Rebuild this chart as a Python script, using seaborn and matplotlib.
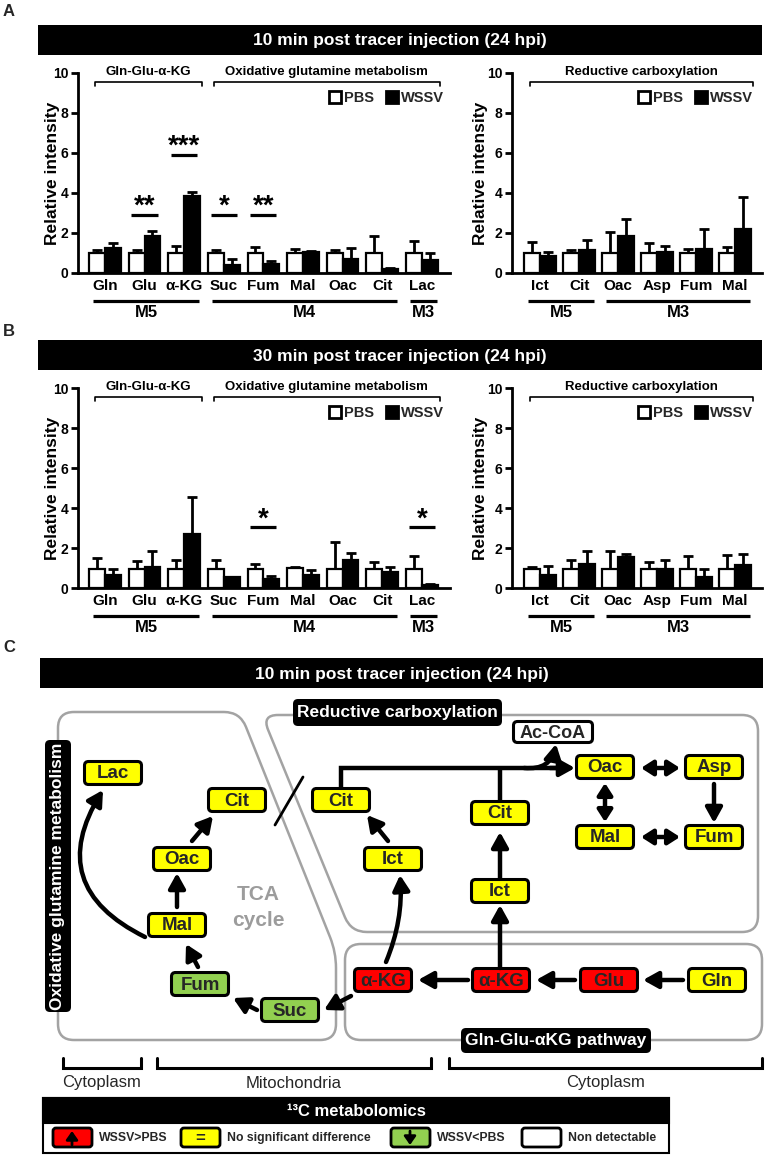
import numpy as np
import pandas as pd
import matplotlib
matplotlib.use("Agg")
import matplotlib.pyplot as plt
import matplotlib.patches as mpatches
from matplotlib.path import Path
import seaborn as sns

# ---- data ----
cats_left = ["Gln", "Glu", "α-KG", "Suc", "Fum", "Mal", "Oac", "Cit", "Lac"]
cats_right = ["Ict", "Cit", "Oac", "Asp", "Fum", "Mal"]

# panel A (10 min): means and top of error bars
a_pbs_l = [1.0, 1.0, 1.0, 1.0, 1.0, 1.0, 1.0, 1.0, 1.0]
a_pbs_l_top = [1.17, 1.17, 1.33, 1.17, 1.28, 1.2, 1.17, 1.83, 1.6]
a_wssv_l = [1.25, 1.83, 3.83, 0.38, 0.45, 1.05, 0.7, 0.2, 0.65]
a_wssv_l_top = [1.5, 2.1, 4.05, 0.7, 0.6, 1.1, 1.25, 0.27, 1.0]
a_pbs_r = [1.0, 1.0, 1.0, 1.0, 1.0, 1.0]
a_pbs_r_top = [1.55, 1.17, 2.05, 1.48, 1.2, 1.3]
a_wssv_r = [0.83, 1.17, 1.83, 1.05, 1.2, 2.2]
a_wssv_r_top = [1.05, 1.67, 2.72, 1.33, 2.22, 3.78]
a_sig_cats = ["Glu", "α-KG", "Suc", "Fum"]
a_sig_marks = ["**", "***", "*", "**"]
a_sig_y = [2.92, 5.92, 2.92, 2.92]

# panel B (30 min)
b_pbs_l = [0.93, 0.95, 0.95, 0.95, 0.95, 1.02, 0.95, 0.95, 0.95]
b_pbs_l_top = [1.5, 1.37, 1.42, 1.42, 1.2, 1.04, 2.3, 1.28, 1.62]
b_wssv_l = [0.67, 1.05, 2.72, 0.53, 0.45, 0.67, 1.38, 0.78, 0.17]
b_wssv_l_top = [0.95, 1.83, 4.57, 0.55, 0.62, 0.92, 1.75, 1.03, 0.18]
b_pbs_r = [0.95, 0.95, 0.95, 0.95, 0.95, 0.95]
b_pbs_r_top = [1.05, 1.42, 1.83, 1.3, 1.62, 1.67]
b_wssv_r = [0.63, 1.22, 1.53, 0.95, 0.55, 1.13]
b_wssv_r_top = [1.12, 1.83, 1.7, 1.42, 0.95, 1.7]
b_sig_cats = ["Fum", "Lac"]
b_sig_marks = ["*", "*"]
b_sig_y = [3.03, 3.03]

groups_left = [("M5", 0, 2), ("M4", 3, 7), ("M3", 8, 8)]
groups_right = [("M5", 0, 1), ("M3", 2, 5)]
brackets_left = [("Gln-Glu-α-KG", 0, 2), ("Oxidative glutamine metabolism", 3, 8)]
brackets_right = [("Reductive carboxylation", 0, 5)]

W, H = 765, 1156
sns.set_theme(style="ticks")
plt.rcParams["font.family"] = ["Liberation Sans", "DejaVu Sans"]

fig = plt.figure(figsize=(W / 100, H / 100), dpi=100)
fig.patch.set_facecolor("white")

ov = fig.add_axes([0, 0, 1, 1])
ov.set_xlim(0, W)
ov.set_ylim(H, 0)
ov.axis("off")


def px_axes(x0, y0, x1, y1):
    return fig.add_axes([x0 / W, 1 - y1 / H, (x1 - x0) / W, (y1 - y0) / H])


def bar_panel(ax, cats, pbs, pbs_top, wssv, wssv_top, sig_cats, sig_marks, sig_y,
              groups, brackets, xlim, leg_x, ylab_x):
    n = len(cats)
    df = pd.DataFrame({"metabolite": cats * 2,
                       "group": ["PBS"] * n + ["WSSV"] * n,
                       "value": pbs + wssv})
    sns.barplot(data=df, x="metabolite", y="value", hue="group", order=cats,
                hue_order=["PBS", "WSSV"], palette={"PBS": "white", "WSSV": "black"},
                edgecolor="black", linewidth=1.6, errorbar=None, width=0.8,
                ax=ax, legend=False, zorder=2)
    for cont, top in zip(ax.containers, [pbs_top, wssv_top]):
        xs = np.array([b.get_x() + b.get_width() / 2 for b in cont])
        hs = np.array([b.get_height() for b in cont])
        ax.errorbar(xs, hs, yerr=[np.zeros(n), np.array(top) - hs], fmt="none",
                    ecolor="black", elinewidth=2, capsize=3.5, capthick=2, zorder=1)
    ax.set_facecolor("none")
    ax.set_xlim(*xlim)
    ax.set_ylim(0, 10)
    ax.set_yticks([0, 2, 4, 6, 8, 10])
    for s in ["top", "right"]:
        ax.spines[s].set_visible(False)
    for s in ["left", "bottom"]:
        ax.spines[s].set_linewidth(2)
        ax.spines[s].set_color("black")
    ax.tick_params(axis="y", length=5, width=2, labelsize=10, pad=2, colors="black")
    ax.tick_params(axis="x", length=0, labelsize=11, pad=4, colors="black")
    for lbl in ax.get_xticklabels() + ax.get_yticklabels():
        lbl.set_fontweight("bold")
    ax.set_xlabel("")
    ax.set_ylabel("Relative intensity", fontsize=12.5, fontweight="bold", color="black")
    ax.yaxis.set_label_coords(ylab_x, 0.5)
    handles = [mpatches.Patch(facecolor="white", edgecolor="black", linewidth=2, label="PBS"),
               mpatches.Patch(facecolor="black", edgecolor="black", linewidth=2, label="WSSV")]
    ax.legend(handles=handles, loc="upper right", bbox_to_anchor=(leg_x, 0.91), ncol=2,
              frameon=False, handlelength=0.8, handleheight=0.8, handletextpad=0.25,
              columnspacing=0.8, borderaxespad=0, borderpad=0,
              prop={"weight": "bold", "size": 10.5})
    for c, m, y in zip(sig_cats, sig_marks, sig_y):
        i = cats.index(c)
        ax.plot([i - 0.33, i + 0.33], [y, y], color="black", lw=2.3,
                solid_capstyle="butt", clip_on=False)
        ax.text(i, y + 0.05, m, ha="center", va="baseline", fontsize=20,
                fontweight="bold", color="black")
    for name, s, e in groups:
        ax.plot([s - 0.3, e + 0.38], [-1.4, -1.4], color="black", lw=2.3,
                solid_capstyle="butt", clip_on=False)
        ax.text((s + e) / 2 + 0.04, -1.98, name, ha="center", va="center",
                fontsize=12, fontweight="bold", color="black", clip_on=False)
    for name, s, e in brackets:
        x0, x1 = s - 0.25, e + 0.45
        ax.plot([x0, x0, x1, x1], [9.35, 9.55, 9.55, 9.35], color="black", lw=1.2,
                clip_on=False)
        ax.text((x0 + x1) / 2, 10.05, name, ha="center", va="center", fontsize=9.5,
                fontweight="bold", color="black", clip_on=False)


def title_bar(y0, y1, text, x0=38, x1=762):
    ov.add_patch(mpatches.Rectangle((x0, y0), x1 - x0, y1 - y0, facecolor="black",
                                    edgecolor="none"))
    ov.text((x0 + x1) / 2, (y0 + y1) / 2 + 1, text, color="white", ha="center",
            va="center", fontsize=12.5, fontweight="bold")


# ---- panels A and B ----
ov.text(9, 12, "A", fontsize=12, fontweight="bold", ha="center", va="center")
title_bar(25, 55, "10 min post tracer injection (24 hpi)")
ax1 = px_axes(78, 73, 450, 273)
bar_panel(ax1, cats_left, a_pbs_l, a_pbs_l_top, a_wssv_l, a_wssv_l_top,
          a_sig_cats, a_sig_marks, a_sig_y, groups_left, brackets_left,
          (-0.68, 8.71), 0.985, -0.048)
ax2 = px_axes(512, 73, 762, 273)
bar_panel(ax2, cats_right, a_pbs_r, a_pbs_r_top, a_wssv_r, a_wssv_r_top,
          [], [], [], groups_right, brackets_right, (-0.72, 5.69), 0.965, -0.096)

ov.text(9, 331, "B", fontsize=12, fontweight="bold", ha="center", va="center")
title_bar(340, 370, "30 min post tracer injection (24 hpi)")
ax3 = px_axes(78, 388, 450, 588)
bar_panel(ax3, cats_left, b_pbs_l, b_pbs_l_top, b_wssv_l, b_wssv_l_top,
          b_sig_cats, b_sig_marks, b_sig_y, groups_left, brackets_left,
          (-0.68, 8.71), 0.985, -0.048)
ax4 = px_axes(512, 388, 762, 588)
bar_panel(ax4, cats_right, b_pbs_r, b_pbs_r_top, b_wssv_r, b_wssv_r_top,
          [], [], [], groups_right, brackets_right, (-0.72, 5.69), 0.965, -0.096)

# ---- panel C: pathway diagram ----
ov.text(9, 647, "C", fontsize=12, fontweight="bold", ha="center", va="center")
title_bar(658, 688, "10 min post tracer injection (24 hpi)", 40, 763)


def rounded_poly(pts, r):
    pts = [np.array(p, float) for p in pts]
    n = len(pts)
    verts, codes = [], []
    for i in range(n):
        p0, p1, p2 = pts[i - 1], pts[i], pts[(i + 1) % n]
        d1 = (p0 - p1) / np.linalg.norm(p0 - p1)
        d2 = (p2 - p1) / np.linalg.norm(p2 - p1)
        a, b = p1 + d1 * r, p1 + d2 * r
        verts.append(a)
        codes.append(Path.MOVETO if i == 0 else Path.LINETO)
        verts += [p1, b]
        codes += [Path.CURVE3, Path.CURVE3]
    verts.append(verts[0])
    codes.append(Path.CLOSEPOLY)
    return Path(verts, codes)


GRAY = "#a3a3a3"
regions = [
    [(58, 712), (240, 712), (336, 952), (336, 1040), (58, 1040)],
    [(262, 715), (758, 715), (758, 932), (351, 932)],
    [(345, 944), (762, 944), (762, 1040), (345, 1040)],
]
for pts in regions:
    ov.add_patch(mpatches.PathPatch(rounded_poly(pts, 16), facecolor="none",
                                    edgecolor=GRAY, lw=1.8))

ov.text(258, 895, "TCA", color="#9c9c9c", fontsize=15, fontweight="bold",
        ha="center", va="center")
ov.text(258, 921, "cycle", color="#9c9c9c", fontsize=15, fontweight="bold",
        ha="center", va="center")


def label_box(x0, y0, x1, y1, text, rot=0):
    ov.add_patch(mpatches.FancyBboxPatch((x0, y0), x1 - x0, y1 - y0,
                                         boxstyle="round,pad=0,rounding_size=5",
                                         facecolor="black", edgecolor="none"))
    ov.text((x0 + x1) / 2, (y0 + y1) / 2, text, color="white", fontsize=12.5,
            fontweight="bold", ha="center", va="center", rotation=rot)


label_box(293, 699, 502, 726, "Reductive carboxylation")
label_box(45, 740, 71, 1012, "Oxidative glutamine metabolism", rot=90)
label_box(461, 1028, 651, 1053, "Gln-Glu-αKG pathway")

FILL = {"up": "#ff0000", "same": "#ffff00", "down": "#92d050", "nd": "white"}
nodes = [
    ("Lac", 113, 773, "same"), ("Cit", 237, 800, "same"), ("Oac", 182, 859, "same"),
    ("Mal", 177, 925, "same"), ("Fum", 200, 984, "down"), ("Suc", 290, 1010, "down"),
    ("Cit", 341, 800, "same"), ("Ict", 393, 859, "same"), ("α-KG", 383, 980, "up"),
    ("α-KG", 501, 980, "up"), ("Glu", 609, 980, "up"), ("Gln", 717, 980, "same"),
    ("Ict", 500, 891, "same"), ("Cit", 500, 813, "same"), ("Ac-CoA", 553, 732, "nd"),
    ("Oac", 605, 767, "same"), ("Asp", 714, 767, "same"), ("Mal", 605, 837, "same"),
    ("Fum", 714, 837, "same"),
]
for name, cx, cy, st in nodes:
    bw = 79 if name == "Ac-CoA" else 57
    bh = 21 if name == "Ac-CoA" else 23
    ov.add_patch(mpatches.FancyBboxPatch((cx - bw / 2, cy - bh / 2), bw, bh,
                                         boxstyle="round,pad=0,rounding_size=4",
                                         facecolor=FILL[st], edgecolor="black", lw=2.2,
                                         zorder=3))
    ov.text(cx, cy + 1, name, fontsize=13.5 if name != "Ac-CoA" else 13,
            fontweight="bold", ha="center", va="center", zorder=4)


def arrow(tail, head, style="-|>", rad=0.0, lw=3.2, hl=0.9, hw=0.5):
    ov.annotate("", xy=head, xytext=tail,
                arrowprops=dict(arrowstyle=f"{style},head_length={hl},head_width={hw}",
                                lw=lw, color="black", shrinkA=0, shrinkB=0,
                                mutation_scale=10,
                                connectionstyle=f"arc3,rad={rad}"))


arrow((683, 980), (643, 980))
arrow((575, 980), (536, 980))
arrow((468, 980), (418, 980))
arrow((351, 996), (324, 1010))
arrow((257, 1010), (233, 998))
arrow((198, 967), (186, 944))
arrow((177, 907), (177, 873))
arrow((192, 841), (213, 816))
arrow((145, 937), (103, 790), rad=-0.55)
arrow((386, 962), (400, 875), rad=0.12)
arrow((388, 841), (367, 815))
arrow((500, 968), (500, 905))
arrow((500, 878), (500, 832))
ov.plot([500, 500], [802, 768], color="black", lw=3.2, solid_capstyle="butt")
ov.plot([341, 341, 560], [788, 768, 768], color="black", lw=3.2,
        solid_joinstyle="miter", solid_capstyle="butt")
arrow((550, 768), (575, 768))
arrow((524, 768), (556, 744), rad=0.45)
arrow((641, 768), (680, 768), style="<|-|>", hl=0.7, hw=0.45)
arrow((605, 783), (605, 822), style="<|-|>", hl=0.7, hw=0.45)
arrow((714, 784), (714, 823))
arrow((641, 837), (680, 837), style="<|-|>", hl=0.7, hw=0.45)
ov.plot([303, 275], [777, 825], color="black", lw=2)

# compartment brackets
compartments = [("Cytoplasm", 63, 141), ("Mitochondria", 157, 431), ("Cytoplasm", 449, 762)]
for name, x0, x1 in compartments:
    ov.plot([x0, x0, x1, x1], [1058, 1068, 1068, 1058], color="black", lw=2.2,
            solid_joinstyle="miter")
    ov.text((x0 + x1) / 2, 1083, name, fontsize=12, ha="center", va="center")

# colour key
ov.add_patch(mpatches.Rectangle((43, 1098), 626, 55, facecolor="white",
                                edgecolor="black", lw=1.5))
ov.add_patch(mpatches.Rectangle((43, 1098), 626, 25, facecolor="black",
                                edgecolor="black", lw=1.5))
ov.text(356, 1111, "¹³C metabolomics", color="white", fontsize=12, fontweight="bold",
        ha="center", va="center")
key_items = [("up", "WSSV>PBS", 53), ("same", "No significant difference", 181),
             ("down", "WSSV<PBS", 391), ("nd", "Non detectable", 522)]
for st, txt, x0 in key_items:
    ov.add_patch(mpatches.FancyBboxPatch((x0, 1128), 39, 19,
                                         boxstyle="round,pad=0,rounding_size=3",
                                         facecolor=FILL[st], edgecolor="black", lw=2))
    ov.text(x0 + 46, 1138, txt, fontsize=8.8, fontweight="bold", ha="left",
            va="center")
arrow((72, 1145), (72, 1131), lw=2, hl=0.5, hw=0.35)
arrow((410, 1131), (410, 1145), lw=2, hl=0.5, hw=0.35)
ov.text(200, 1138, "=", fontsize=12, fontweight="bold", ha="center", va="center")

fig.savefig("out.png", dpi=100, facecolor="white")
